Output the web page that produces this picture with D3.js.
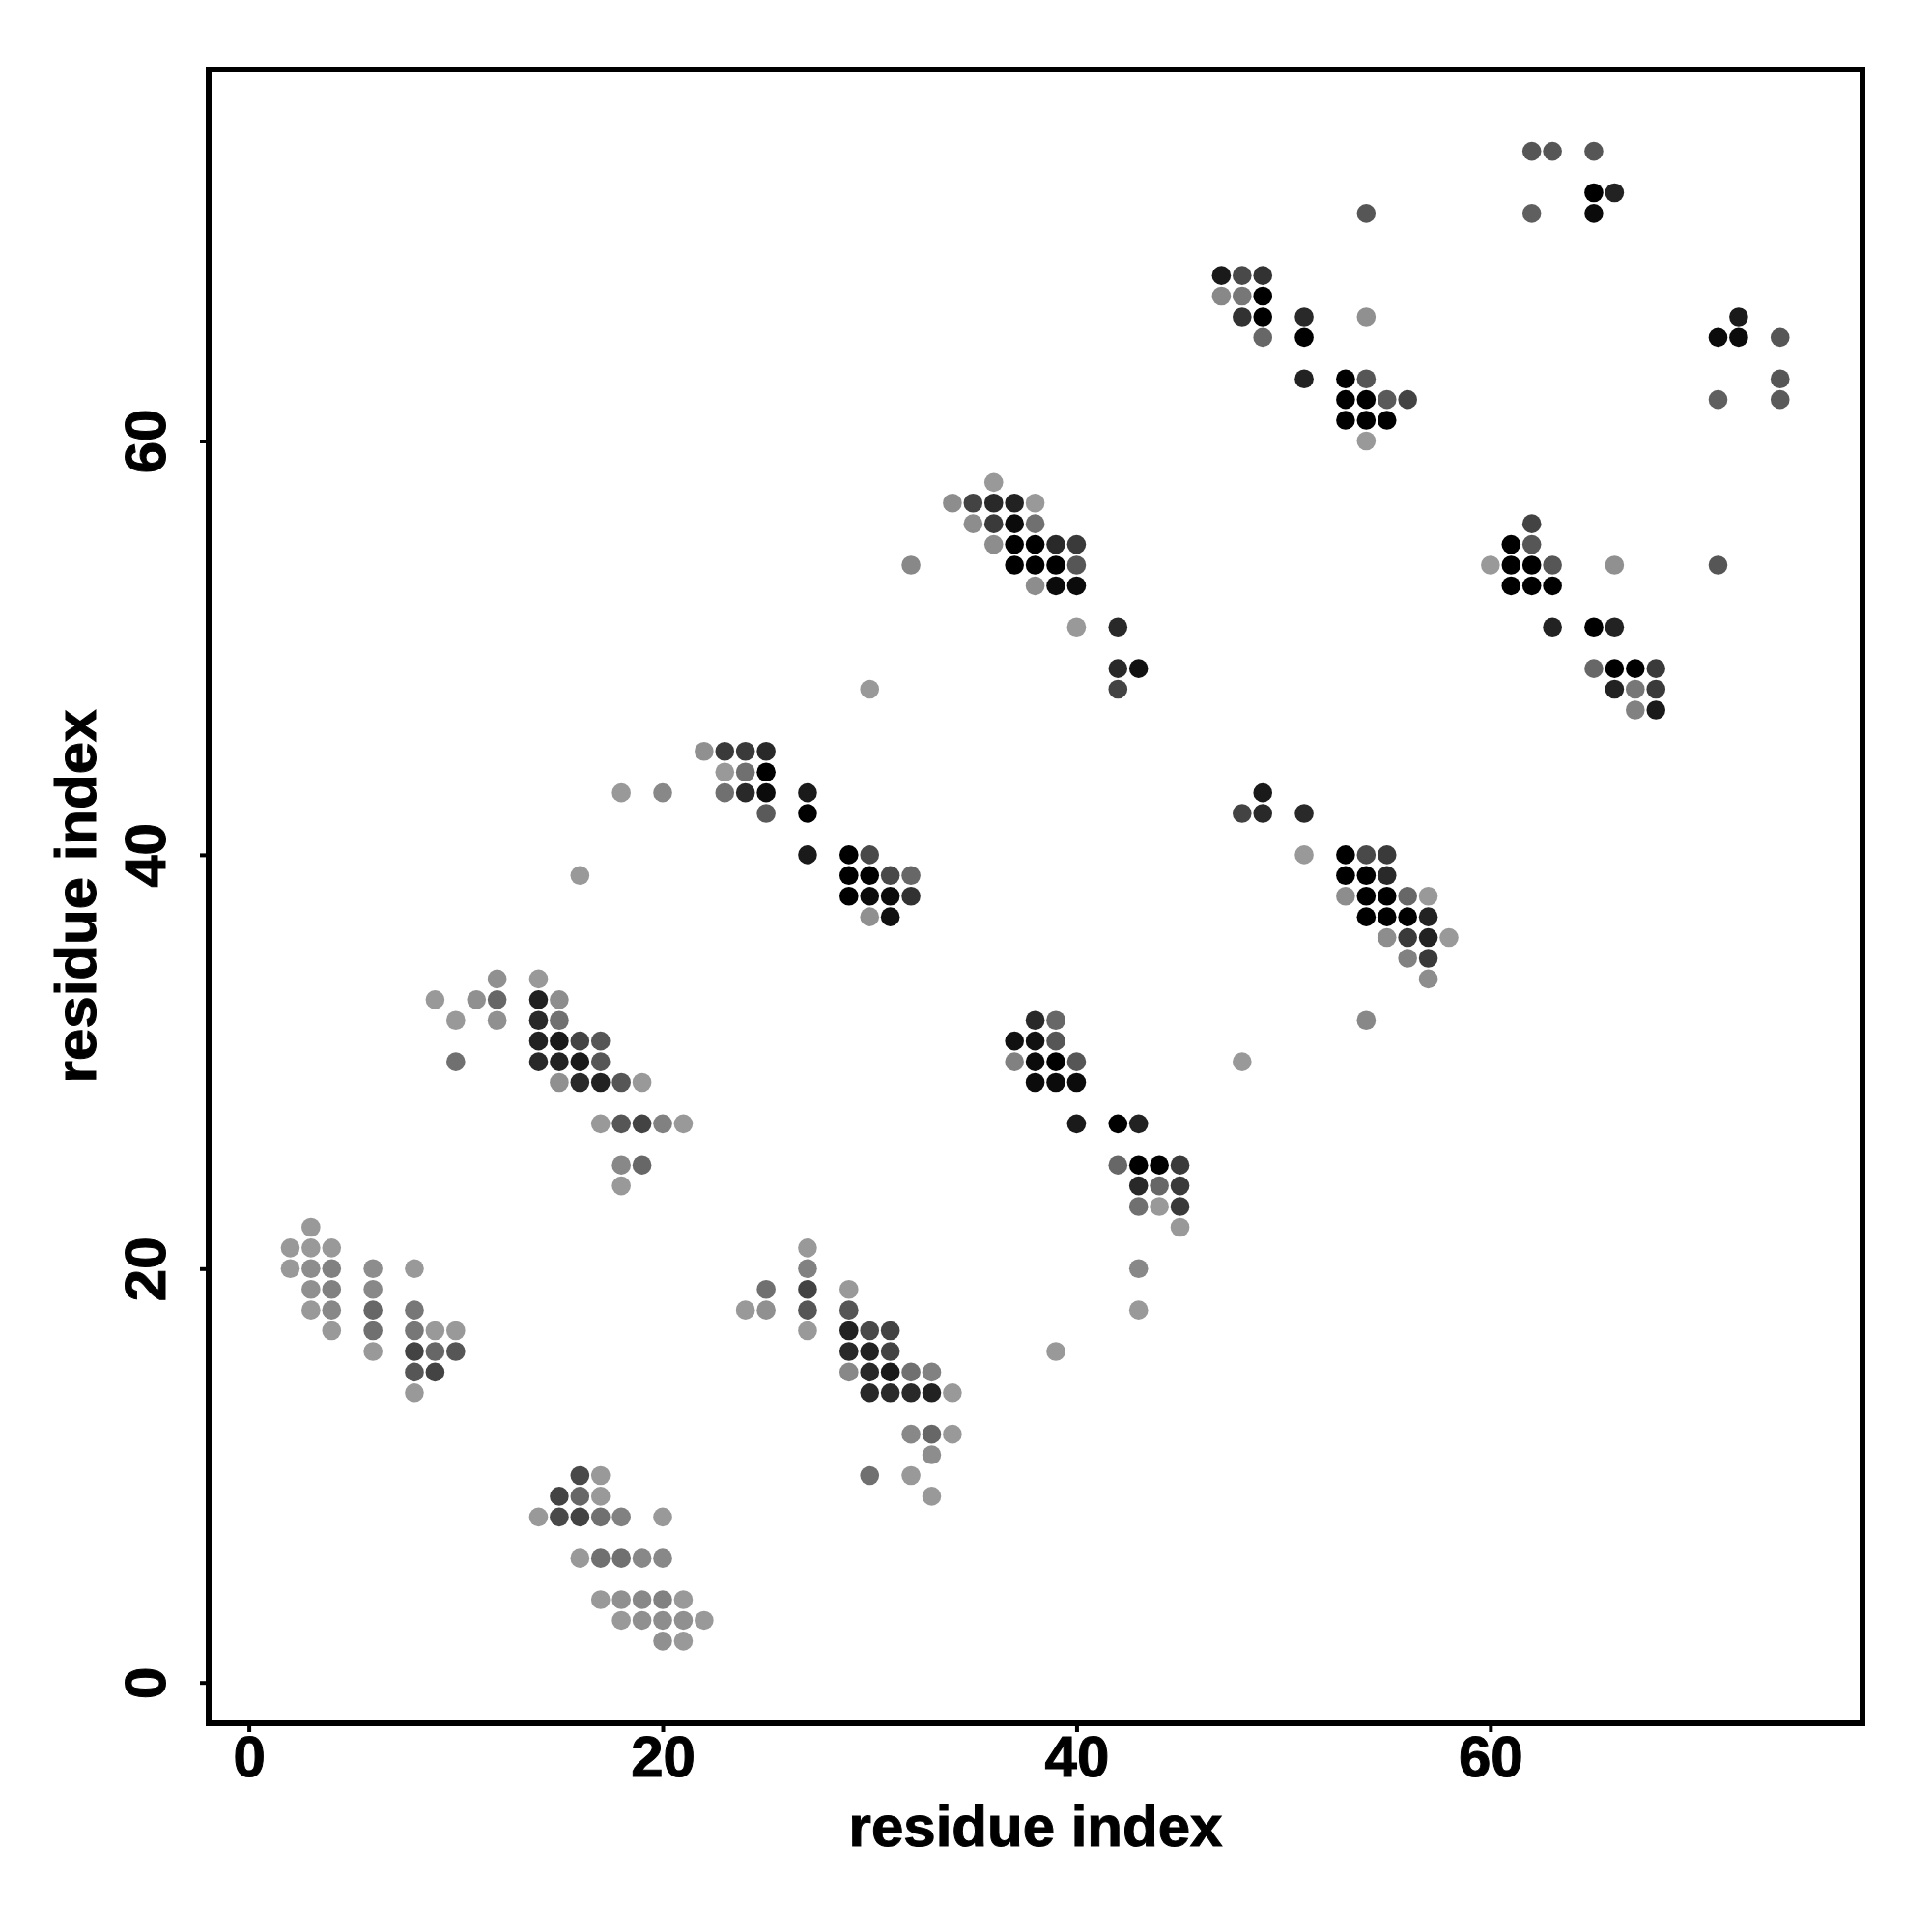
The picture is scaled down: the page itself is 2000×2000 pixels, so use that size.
<!DOCTYPE html>
<html>
<head>
<meta charset="utf-8">
<script src="https://cdn.jsdelivr.net/npm/d3@7"></script>
<style>
  body { margin: 0; background: #fff; }
  text { font-family: "Liberation Sans", Arial, sans-serif; font-weight: bold; fill: #000; stroke: #000; stroke-width: 1px; }
</style>
</head>
<body>
<svg id="graph" width="2000" height="2000"></svg>
<script>
var tickValues = [0, 20, 40, 60];
var axisTitle = 'residue index';

// one entry per row of the map, top row first
var rowJ = [74, 72, 71, 68, 67, 66, 65, 63, 62, 61, 60, 58, 57, 56, 55, 54, 53, 51, 49, 48, 47,
  45, 44, 43, 42, 40, 39, 38, 37, 36, 35, 34, 33, 32, 31, 30, 29, 27, 25, 24, 23, 22, 21, 20,
  19, 18, 17, 16, 15, 14, 12, 11, 10, 9, 8, 6, 4, 3, 2];

var rowI = [
  [62, 63, 65],
  [65, 66],
  [54, 62, 65],
  [47, 48, 49],
  [47, 48, 49],
  [48, 49, 51, 54, 72],
  [49, 51, 71, 72, 74],
  [51, 53, 54, 74],
  [53, 54, 55, 56, 71, 74],
  [53, 54, 55],
  [54],
  [36],
  [34, 35, 36, 37, 38],
  [35, 36, 37, 38, 62],
  [36, 37, 38, 39, 40, 61, 62],
  [32, 37, 38, 39, 40, 60, 61, 62, 63, 66, 71],
  [38, 39, 40, 61, 62, 63],
  [40, 42, 63, 65, 66],
  [42, 43, 65, 66, 67, 68],
  [30, 42, 66, 67, 68],
  [67, 68],
  [22, 23, 24, 25],
  [23, 24, 25],
  [18, 20, 23, 24, 25, 27, 49],
  [25, 27, 48, 49, 51],
  [27, 29, 30, 51, 53, 54, 55],
  [16, 29, 30, 31, 32, 53, 54, 55],
  [29, 30, 31, 32, 53, 54, 55, 56, 57],
  [30, 31, 54, 55, 56, 57],
  [55, 56, 57, 58],
  [56, 57],
  [12, 14, 57],
  [9, 11, 12, 14, 15],
  [10, 12, 14, 15, 38, 39, 54],
  [14, 15, 16, 17, 37, 38, 39],
  [10, 14, 15, 16, 17, 37, 38, 39, 40, 48],
  [15, 16, 17, 18, 19, 38, 39, 40],
  [17, 18, 19, 20, 21, 40, 42, 43],
  [18, 19, 42, 43, 44, 45],
  [18, 43, 44, 45],
  [43, 44, 45],
  [3, 45],
  [2, 3, 4, 27],
  [2, 3, 4, 6, 8, 27, 43],
  [3, 4, 6, 25, 27, 29],
  [3, 4, 6, 8, 24, 25, 27, 29, 43],
  [4, 6, 8, 9, 10, 27, 29, 30, 31],
  [6, 8, 9, 10, 29, 30, 31, 39],
  [8, 9, 29, 30, 31, 32, 33],
  [8, 30, 31, 32, 33, 34],
  [32, 33, 34],
  [33],
  [16, 17, 30, 32],
  [15, 16, 17, 33],
  [14, 15, 16, 17, 18, 20],
  [16, 17, 18, 19, 20],
  [17, 18, 19, 20, 21],
  [18, 19, 20, 21, 22],
  [20, 21]
];

// contact strength, 0 is the palest grey and 1 is black
var rowWeight = [
  [.44, .44, .44],
  [1, .78],
  [.44, .38, .93],
  [.83, .52, .67],
  [.11, .22, 1],
  [.67, 1, .73, .06, .83],
  [.33, 1, .93, .93, .44],
  [.78, 1, .44, .44],
  [1, 1, .41, .56, .38, .41],
  [1, 1, 1],
  [0],
  [0],
  [.08, .56, .73, .78, 0],
  [.08, .62, .93, .27, .56],
  [.08, 1, 1, .73, .62, 1, .44],
  [.11, 1, 1, 1, .44, 0, 1, 1, .44, .06, .44],
  [.08, .93, .93, 1, 1, 1],
  [0, .73, .78, 1, .78],
  [.73, .89, .33, 1, 1, .62],
  [0, .56, .78, .22, .62],
  [.16, .83],
  [.06, .62, .62, .73],
  [0, .27, 1],
  [0, .11, .27, .73, .93, .83, .83],
  [.41, 1, .56, .73, .73],
  [.83, 1, .52, 0, 1, .52, .62],
  [0, 1, 1, .52, .33, 1, 1, .73],
  [1, .93, .93, .67, .08, 1, 1, .33, 0],
  [.06, .89, 1, 1, 1, .78],
  [.08, .62, .78, 0],
  [.16, .62],
  [.06, 0, .08],
  [0, .06, .33, .78, .08],
  [0, .06, .73, .27, .73, .33, .11],
  [.78, .83, .56, .44, .89, .89, .44],
  [.27, .73, .78, .83, .44, .16, .93, 1, .44, 0],
  [.06, .73, .78, .44, 0, .93, .93, .93],
  [0, .44, .56, .16, 0, .83, 1, .78],
  [.11, .33, .33, 1, 1, .62],
  [0, .73, .33, .62],
  [.27, 0, .62],
  [0, 0],
  [0, 0, 0, 0],
  [0, .08, .16, .08, 0, .16, .11],
  [.06, .16, .11, .27, .56, 0],
  [0, .11, .33, .22, 0, .06, .44, .44, 0],
  [0, .27, .22, 0, 0, 0, .78, .52, .56],
  [0, .56, .33, .44, .73, .78, .56, 0],
  [.44, .56, .11, .73, .83, .27, .16],
  [0, .73, .73, .73, .78, 0],
  [.11, .33, 0],
  [.08],
  [.52, 0, .27, 0],
  [.56, .33, 0, 0],
  [0, .52, .56, .27, .16, 0],
  [0, .27, .27, .11, .11],
  [0, .06, .11, .16, 0],
  [0, .06, .08, .06, 0],
  [.06, 0]
];

var LEFT = 216, RIGHT = 1928, TOP = 72, BOTTOM = 1784;

var contacts = [];
rowJ.forEach(function (j, r) {
  rowI[r].forEach(function (i, c) {
    contacts.push({ i: i, j: j, weight: rowWeight[r][c] });
  });
});

var xRange = d3.scaleLinear().domain([-1.942, 77.98]).range([LEFT, RIGHT]);
var yRange = d3.scaleLinear().domain([-1.975, 77.95]).range([BOTTOM, TOP]);
var grey = d3.scaleLinear().domain([0, 1]).range(['#999999', '#000000']);

var vis = d3.select('#graph');

vis.selectAll('circle')
  .data(contacts)
  .enter().append('circle')
  .attr('cx', function (d) { return xRange(d.i); })
  .attr('cy', function (d) { return yRange(d.j); })
  .attr('r', 9.8)
  .attr('fill', function (d) { return grey(d.weight); });

var xAxis = d3.axisBottom(xRange).tickValues(tickValues).tickSize(9).tickPadding(3).tickSizeOuter(0);
var yAxis = d3.axisLeft(yRange).tickValues(tickValues).tickSize(9).tickSizeOuter(0);

var gx = vis.append('g')
  .attr('transform', 'translate(0,' + BOTTOM + ')')
  .call(xAxis);

var gy = vis.append('g')
  .attr('transform', 'translate(' + LEFT + ',0)')
  .call(yAxis);

gx.select('.domain').remove();
gy.select('.domain').remove();
vis.selectAll('.tick line').attr('stroke', '#000').attr('stroke-width', 4);
vis.selectAll('.tick text').style('font-size', '60px').style('font-family', null);
gy.selectAll('.tick text')
  .attr('transform', 'rotate(-90)')
  .attr('text-anchor', 'middle')
  .attr('x', 0)
  .attr('y', -45)
  .attr('dy', 0);

vis.append('rect')
  .attr('x', LEFT)
  .attr('y', TOP)
  .attr('width', RIGHT - LEFT)
  .attr('height', BOTTOM - TOP)
  .attr('fill', 'none')
  .attr('stroke', '#000')
  .attr('stroke-width', 6);

vis.append('text')
  .attr('x', (LEFT + RIGHT) / 2)
  .attr('y', 1911)
  .attr('text-anchor', 'middle')
  .style('font-size', '60px')
  .text(axisTitle);

vis.append('text')
  .attr('transform', 'translate(99,' + (TOP + BOTTOM) / 2 + ') rotate(-90)')
  .attr('text-anchor', 'middle')
  .style('font-size', '60px')
  .text(axisTitle);
</script>
</body>
</html>
